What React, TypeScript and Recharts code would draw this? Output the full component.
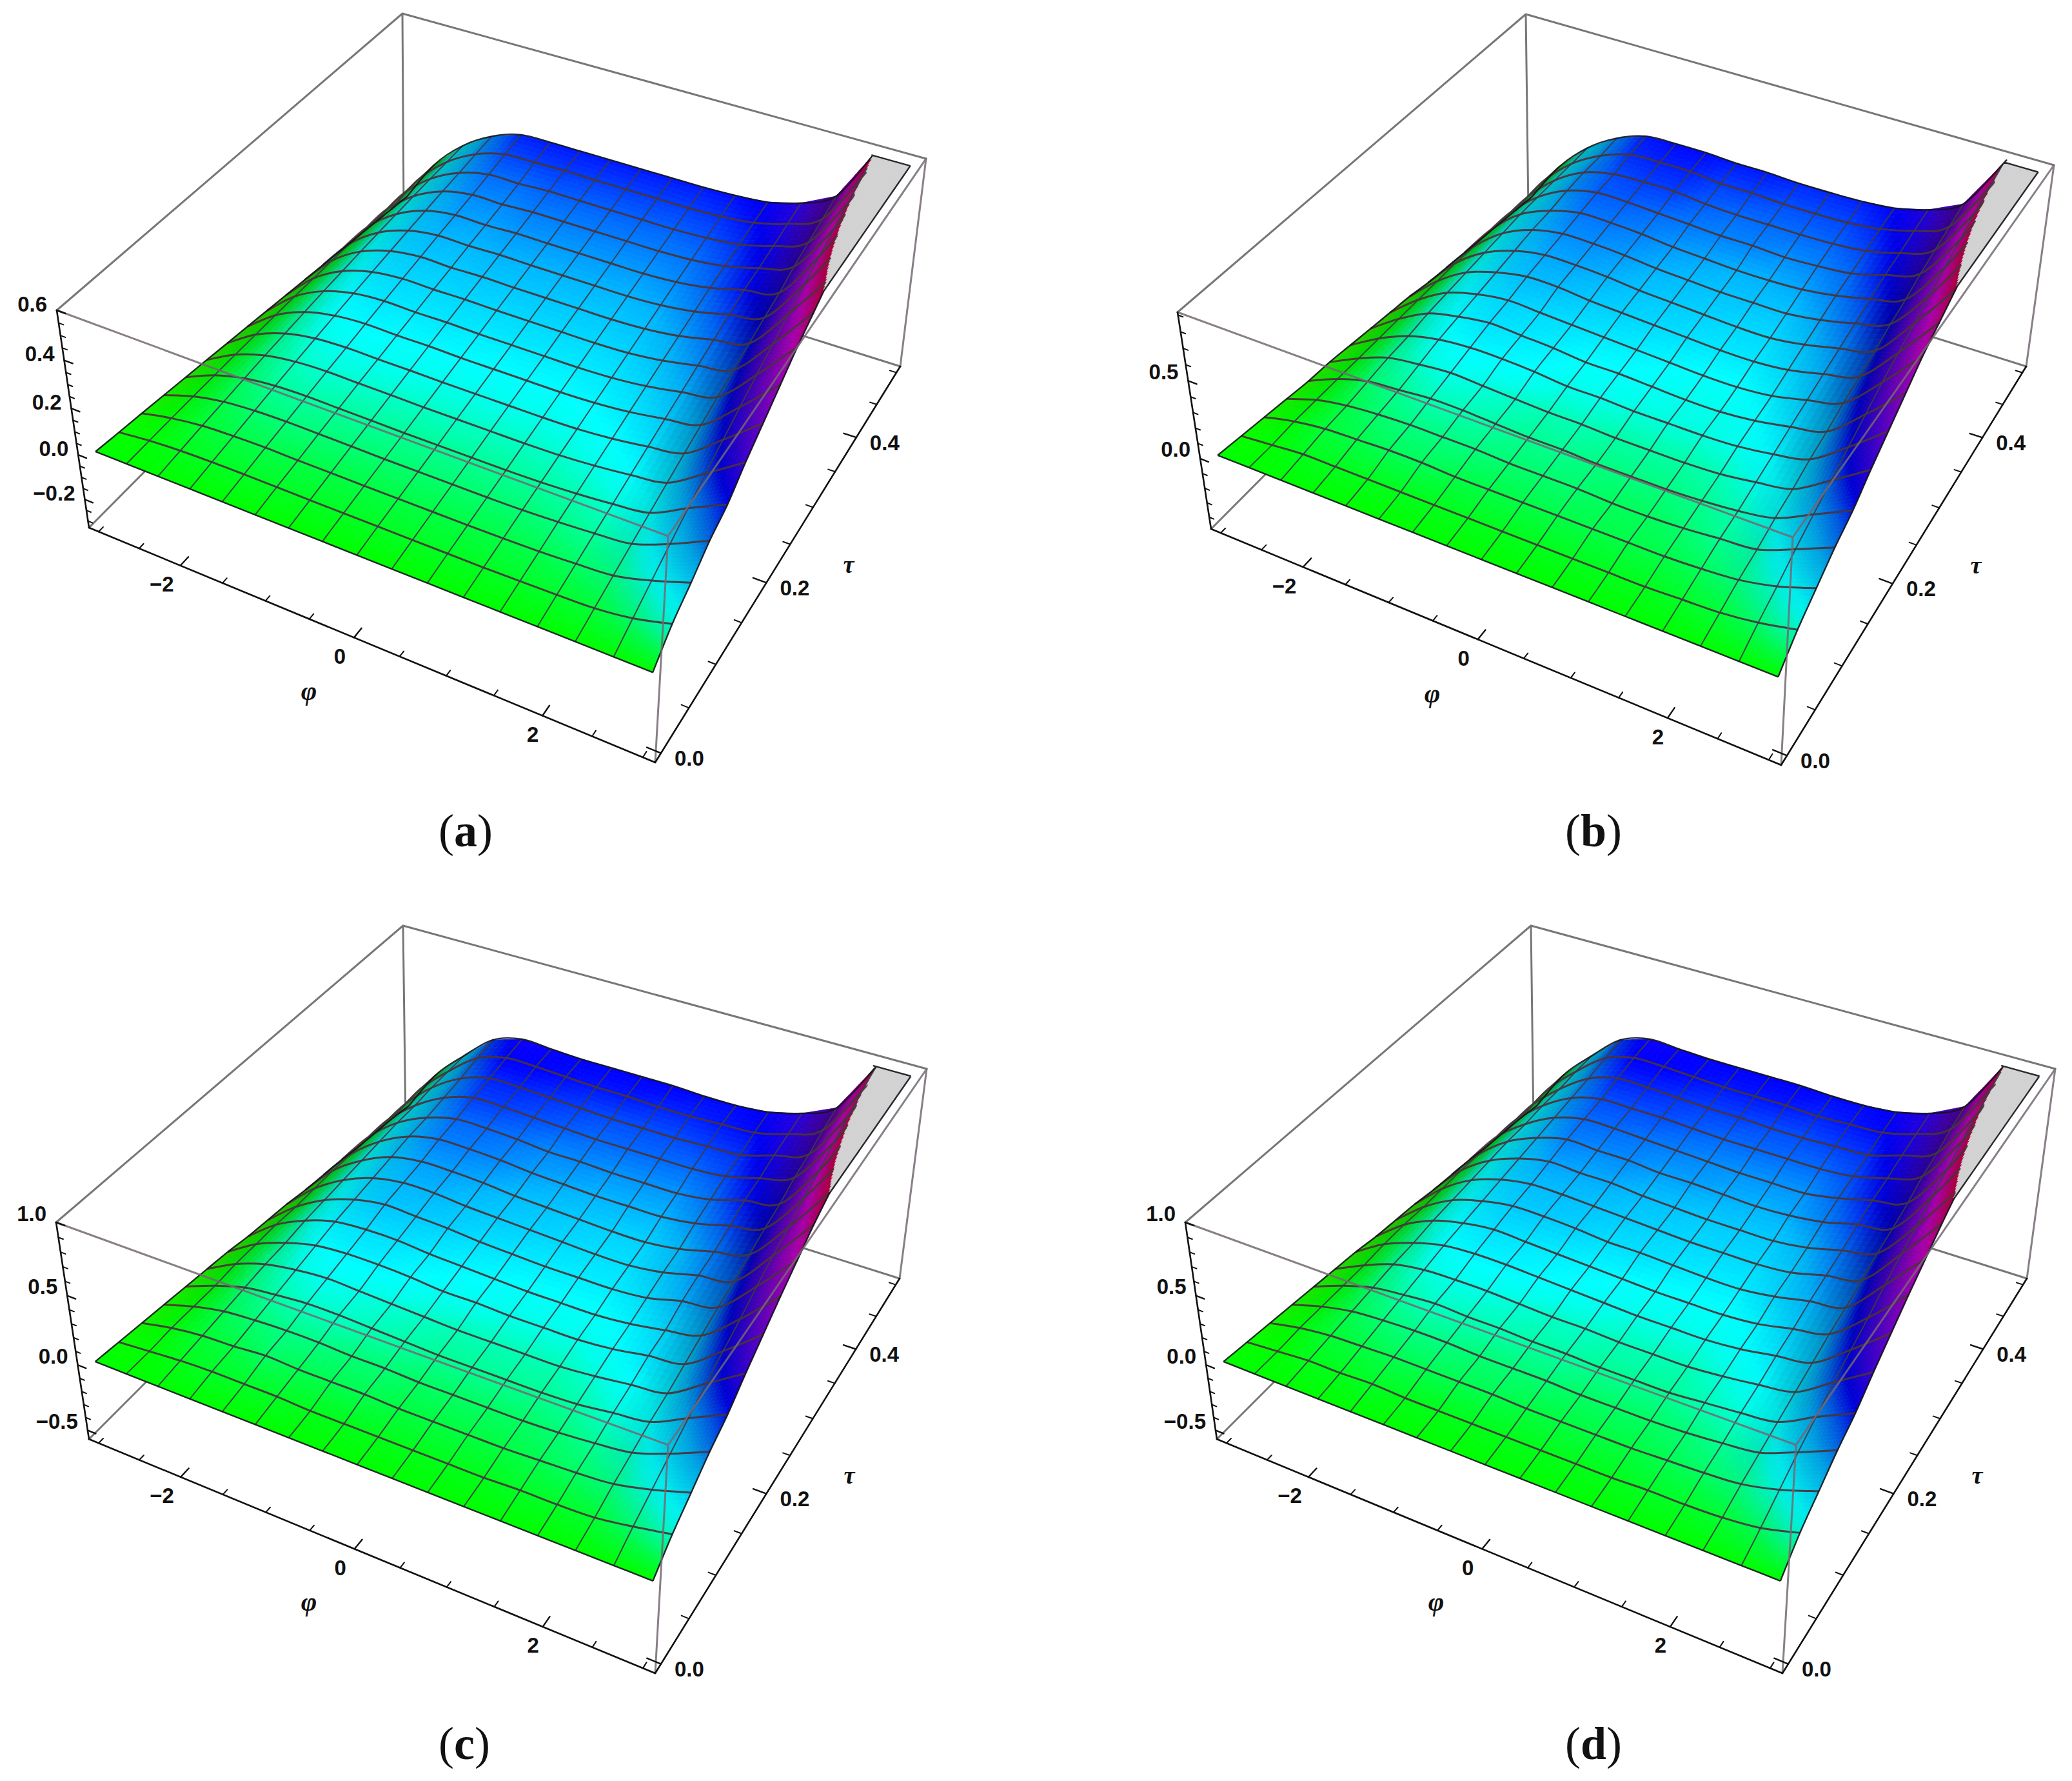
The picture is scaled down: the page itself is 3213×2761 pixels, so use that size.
import { ScatterChart, Scatter, XAxis, YAxis } from 'recharts';

const W = 3213;
const H = 2761;

// mesh nodes of the surface
const PHI_NODES = [-3, -2.625, -2.25, -1.875, -1.5, -1.125, -0.75, -0.375, 0, 0.375, 0.75, 1.125, 1.5, 1.875, 2.25, 2.625, 3];
const TAU_NODES = [0, 0.03125, 0.0625, 0.09375, 0.125, 0.15625, 0.1875, 0.21875, 0.25, 0.28125, 0.3125, 0.34375, 0.375, 0.40625, 0.4375, 0.46875, 0.5];
const PHI_BOX = [-3.12, 3.12];
const TAU_BOX = [-0.01, 0.51];

// heights, one row per tau node
const Z_A = [
  [0, 0, 0, 0, 0, 0, 0, 0, 0, 0, 0, 0, 0, 0, 0, 0, 0],
  [-0.013, 0.003, 0.012, 0.016, 0.017, 0.017, 0.016, 0.016, 0.016, 0.016, 0.016, 0.016, 0.018, 0.021, 0.026, 0.046, 0.085],
  [-0.025, 0.005, 0.024, 0.031, 0.034, 0.032, 0.032, 0.031, 0.031, 0.031, 0.031, 0.032, 0.035, 0.042, 0.052, 0.091, 0.143],
  [-0.038, 0.007, 0.034, 0.046, 0.05, 0.049, 0.048, 0.046, 0.046, 0.046, 0.046, 0.048, 0.054, 0.063, 0.077, 0.135, 0.207],
  [-0.051, 0.008, 0.044, 0.061, 0.066, 0.064, 0.063, 0.061, 0.061, 0.061, 0.061, 0.064, 0.071, 0.083, 0.102, 0.178, 0.25],
  [-0.064, 0.009, 0.054, 0.075, 0.082, 0.08, 0.079, 0.077, 0.077, 0.077, 0.077, 0.08, 0.089, 0.104, 0.126, 0.22, 0.32],
  [-0.078, 0.009, 0.062, 0.088, 0.096, 0.094, 0.094, 0.092, 0.092, 0.092, 0.092, 0.095, 0.106, 0.125, 0.15, 0.26, 0.38],
  [-0.091, 0.009, 0.07, 0.101, 0.112, 0.109, 0.11, 0.107, 0.107, 0.107, 0.107, 0.112, 0.124, 0.146, 0.173, 0.299, 0.44],
  [-0.105, 0.008, 0.078, 0.114, 0.126, 0.123, 0.125, 0.122, 0.122, 0.122, 0.122, 0.127, 0.141, 0.166, 0.196, 0.338, 0.5],
  [-0.119, 0.006, 0.084, 0.125, 0.14, 0.138, 0.14, 0.138, 0.138, 0.138, 0.138, 0.143, 0.159, 0.187, 0.218, 0.374, 0.55],
  [-0.133, 0.004, 0.09, 0.136, 0.154, 0.151, 0.155, 0.153, 0.153, 0.153, 0.153, 0.159, 0.176, 0.207, 0.24, 0.41, 0.6],
  [-0.147, 0.001, 0.095, 0.147, 0.168, 0.166, 0.17, 0.168, 0.168, 0.168, 0.168, 0.175, 0.194, 0.228, 0.262, 0.445, 0.66],
  [-0.161, -0.002, 0.099, 0.157, 0.18, 0.178, 0.184, 0.183, 0.183, 0.183, 0.183, 0.191, 0.211, 0.248, 0.282, 0.478, 0.72],
  [-0.176, -0.006, 0.103, 0.167, 0.193, 0.192, 0.199, 0.199, 0.199, 0.199, 0.199, 0.205, 0.222, 0.258, 0.31, 0.51, 0.78],
  [-0.19, -0.01, 0.106, 0.175, 0.208, 0.208, 0.215, 0.214, 0.214, 0.214, 0.214, 0.22, 0.235, 0.272, 0.332, 0.541, 0.84],
  [-0.205, -0.015, 0.108, 0.185, 0.224, 0.228, 0.231, 0.229, 0.229, 0.229, 0.229, 0.235, 0.25, 0.288, 0.352, 0.571, 0.9],
  [-0.22, -0.02, 0.11, 0.193, 0.24, 0.245, 0.245, 0.245, 0.245, 0.245, 0.245, 0.25, 0.262, 0.3, 0.372, 0.6, 0.96],
];
const Z_B = [
  [0, 0, 0, 0, 0, 0, 0, 0, 0, 0, 0, 0, 0, 0, 0, 0, 0],
  [-0.02, 0, 0.02, 0.02, 0.02, 0.02, 0.02, 0.02, 0.02, 0.02, 0.02, 0.02, 0.02, 0.03, 0.04, 0.07, 0.12],
  [-0.04, 0.01, 0.04, 0.05, 0.06, 0.06, 0.05, 0.05, 0.05, 0.05, 0.05, 0.05, 0.05, 0.06, 0.08, 0.13, 0.21],
  [-0.06, 0.01, 0.05, 0.07, 0.08, 0.08, 0.08, 0.07, 0.07, 0.07, 0.06, 0.06, 0.07, 0.09, 0.11, 0.2, 0.3],
  [-0.08, 0.01, 0.07, 0.09, 0.11, 0.11, 0.1, 0.09, 0.09, 0.08, 0.08, 0.08, 0.09, 0.11, 0.15, 0.26, 0.37],
  [-0.09, 0.01, 0.09, 0.12, 0.14, 0.13, 0.12, 0.11, 0.11, 0.1, 0.1, 0.1, 0.11, 0.14, 0.18, 0.32, 0.47],
  [-0.11, 0.01, 0.1, 0.15, 0.17, 0.17, 0.16, 0.14, 0.14, 0.13, 0.13, 0.13, 0.14, 0.17, 0.22, 0.38, 0.56],
  [-0.13, 0.01, 0.12, 0.17, 0.2, 0.19, 0.18, 0.16, 0.16, 0.15, 0.14, 0.14, 0.16, 0.2, 0.25, 0.44, 0.65],
  [-0.15, 0.01, 0.13, 0.19, 0.22, 0.21, 0.2, 0.19, 0.18, 0.17, 0.16, 0.16, 0.18, 0.23, 0.29, 0.5, 0.74],
  [-0.17, 0.01, 0.14, 0.21, 0.25, 0.25, 0.23, 0.22, 0.21, 0.2, 0.19, 0.19, 0.21, 0.26, 0.32, 0.55, 0.81],
  [-0.2, 0.01, 0.15, 0.23, 0.27, 0.27, 0.26, 0.24, 0.23, 0.22, 0.21, 0.21, 0.24, 0.29, 0.35, 0.6, 0.88],
  [-0.22, 0, 0.16, 0.25, 0.29, 0.29, 0.28, 0.26, 0.25, 0.24, 0.24, 0.24, 0.27, 0.32, 0.39, 0.65, 0.97],
  [-0.24, 0, 0.17, 0.26, 0.31, 0.31, 0.3, 0.28, 0.27, 0.26, 0.26, 0.27, 0.3, 0.35, 0.42, 0.7, 1.06],
  [-0.26, -0.01, 0.17, 0.28, 0.33, 0.33, 0.32, 0.31, 0.3, 0.3, 0.29, 0.3, 0.32, 0.38, 0.46, 0.75, 1.15],
  [-0.28, -0.02, 0.17, 0.29, 0.34, 0.35, 0.35, 0.33, 0.32, 0.32, 0.32, 0.325, 0.345, 0.4, 0.49, 0.8, 1.24],
  [-0.3, -0.02, 0.17, 0.29, 0.36, 0.37, 0.37, 0.35, 0.35, 0.34, 0.34, 0.345, 0.37, 0.425, 0.52, 0.84, 1.33],
  [-0.32, -0.03, 0.17, 0.3, 0.375, 0.385, 0.385, 0.375, 0.375, 0.365, 0.365, 0.37, 0.39, 0.445, 0.55, 0.88, 1.41],
];
const Z_C = [
  [0, 0, 0, 0, 0, 0, 0, 0, 0, 0, 0, 0, 0, 0, 0, 0, 0],
  [-0.02, 0, 0.02, 0.03, 0.03, 0.03, 0.02, 0.02, 0.02, 0.02, 0.02, 0.02, 0.03, 0.03, 0.04, 0.08, 0.13],
  [-0.04, 0.01, 0.04, 0.05, 0.07, 0.06, 0.06, 0.06, 0.05, 0.05, 0.05, 0.05, 0.06, 0.07, 0.09, 0.15, 0.23],
  [-0.06, 0.01, 0.06, 0.08, 0.09, 0.09, 0.08, 0.08, 0.07, 0.07, 0.07, 0.07, 0.08, 0.1, 0.13, 0.22, 0.33],
  [-0.08, 0.01, 0.08, 0.11, 0.13, 0.13, 0.12, 0.11, 0.1, 0.1, 0.1, 0.1, 0.11, 0.14, 0.17, 0.29, 0.41],
  [-0.1, 0.02, 0.1, 0.14, 0.16, 0.15, 0.14, 0.13, 0.12, 0.12, 0.12, 0.12, 0.14, 0.17, 0.2, 0.36, 0.52],
  [-0.12, 0.02, 0.11, 0.17, 0.19, 0.19, 0.18, 0.16, 0.16, 0.15, 0.15, 0.15, 0.17, 0.21, 0.24, 0.42, 0.62],
  [-0.15, 0.02, 0.13, 0.2, 0.22, 0.22, 0.2, 0.19, 0.18, 0.17, 0.17, 0.17, 0.19, 0.23, 0.28, 0.48, 0.72],
  [-0.17, 0.01, 0.14, 0.22, 0.26, 0.25, 0.24, 0.22, 0.21, 0.2, 0.2, 0.2, 0.22, 0.28, 0.32, 0.55, 0.81],
  [-0.19, 0.01, 0.15, 0.24, 0.28, 0.28, 0.26, 0.25, 0.24, 0.23, 0.22, 0.22, 0.25, 0.31, 0.35, 0.61, 0.9],
  [-0.22, 0.01, 0.16, 0.26, 0.3, 0.3, 0.29, 0.27, 0.26, 0.25, 0.24, 0.24, 0.27, 0.33, 0.39, 0.66, 0.97],
  [-0.24, 0, 0.17, 0.28, 0.33, 0.33, 0.32, 0.3, 0.29, 0.28, 0.28, 0.28, 0.31, 0.37, 0.43, 0.72, 1.07],
  [-0.26, 0, 0.18, 0.29, 0.35, 0.35, 0.34, 0.32, 0.32, 0.31, 0.31, 0.31, 0.34, 0.41, 0.46, 0.77, 1.17],
  [-0.29, -0.01, 0.18, 0.31, 0.38, 0.38, 0.37, 0.36, 0.35, 0.35, 0.35, 0.35, 0.37, 0.43, 0.51, 0.83, 1.27],
  [-0.31, -0.02, 0.19, 0.33, 0.4, 0.4, 0.39, 0.38, 0.37, 0.37, 0.37, 0.38, 0.39, 0.46, 0.54, 0.88, 1.37],
  [-0.33, -0.02, 0.19, 0.36, 0.43, 0.43, 0.42, 0.41, 0.41, 0.4, 0.4, 0.41, 0.42, 0.48, 0.58, 0.93, 1.46],
  [-0.36, -0.03, 0.19, 0.38, 0.45, 0.44, 0.43, 0.43, 0.43, 0.43, 0.42, 0.42, 0.44, 0.5, 0.61, 0.97, 1.56],
];
const Z_D = [
  [0, 0, 0, 0, 0, 0, 0, 0, 0, 0, 0, 0, 0, 0, 0, 0, 0],
  [-0.02, 0, 0.02, 0.02, 0.03, 0.02, 0.02, 0.02, 0.02, 0.02, 0.02, 0.02, 0.03, 0.03, 0.04, 0.07, 0.14],
  [-0.04, 0.01, 0.04, 0.05, 0.06, 0.06, 0.06, 0.06, 0.05, 0.05, 0.05, 0.05, 0.06, 0.07, 0.09, 0.15, 0.24],
  [-0.06, 0.01, 0.06, 0.08, 0.09, 0.09, 0.08, 0.08, 0.08, 0.07, 0.07, 0.07, 0.08, 0.1, 0.13, 0.23, 0.34],
  [-0.08, 0.01, 0.08, 0.11, 0.13, 0.12, 0.12, 0.11, 0.11, 0.1, 0.1, 0.1, 0.12, 0.14, 0.17, 0.3, 0.42],
  [-0.1, 0.01, 0.1, 0.14, 0.15, 0.15, 0.14, 0.13, 0.13, 0.12, 0.12, 0.12, 0.14, 0.17, 0.21, 0.37, 0.53],
  [-0.12, 0.02, 0.11, 0.17, 0.19, 0.19, 0.18, 0.17, 0.16, 0.15, 0.15, 0.15, 0.17, 0.21, 0.25, 0.43, 0.63],
  [-0.15, 0.02, 0.13, 0.19, 0.22, 0.21, 0.2, 0.19, 0.18, 0.17, 0.17, 0.17, 0.19, 0.24, 0.29, 0.49, 0.73],
  [-0.17, 0.01, 0.14, 0.21, 0.25, 0.25, 0.24, 0.22, 0.22, 0.21, 0.2, 0.2, 0.23, 0.28, 0.32, 0.56, 0.82],
  [-0.19, 0.01, 0.15, 0.23, 0.27, 0.27, 0.26, 0.25, 0.24, 0.23, 0.23, 0.23, 0.25, 0.31, 0.36, 0.62, 0.91],
  [-0.22, 0.01, 0.16, 0.25, 0.3, 0.29, 0.29, 0.27, 0.26, 0.25, 0.25, 0.25, 0.28, 0.34, 0.4, 0.67, 0.99],
  [-0.24, 0, 0.17, 0.27, 0.33, 0.32, 0.32, 0.3, 0.3, 0.29, 0.28, 0.29, 0.32, 0.38, 0.43, 0.73, 1.09],
  [-0.26, 0, 0.17, 0.29, 0.35, 0.35, 0.34, 0.33, 0.32, 0.31, 0.31, 0.31, 0.35, 0.41, 0.47, 0.78, 1.19],
  [-0.29, -0.01, 0.18, 0.31, 0.37, 0.37, 0.37, 0.36, 0.35, 0.35, 0.35, 0.35, 0.37, 0.43, 0.52, 0.84, 1.29],
  [-0.31, -0.02, 0.18, 0.33, 0.4, 0.4, 0.39, 0.38, 0.38, 0.37, 0.37, 0.38, 0.39, 0.46, 0.55, 0.89, 1.39],
  [-0.33, -0.02, 0.19, 0.36, 0.43, 0.43, 0.42, 0.41, 0.41, 0.41, 0.4, 0.41, 0.42, 0.48, 0.59, 0.94, 1.48],
  [-0.36, -0.03, 0.19, 0.38, 0.45, 0.44, 0.43, 0.43, 0.43, 0.43, 0.42, 0.42, 0.44, 0.5, 0.62, 0.98, 1.58],
];

// tick labels and tick positions
const PHI_MAJOR = [-2, 0, 2];
const PHI_MINOR = [-3, -2.5, -1.5, -1, -0.5, 0.5, 1, 1.5, 2.5, 3];
const TAU_MAJOR = [0, 0.2, 0.4];
const TAU_MINOR = [0.05, 0.1, 0.15, 0.25, 0.3, 0.35, 0.45, 0.5];
const Z_MAJOR_A = [-0.2, 0, 0.2, 0.4, 0.6];
const Z_MINOR_A = [-0.3, -0.25, -0.15, -0.1, -0.05, 0.05, 0.1, 0.15, 0.25, 0.3, 0.35, 0.45, 0.5, 0.55];
const Z_MAJOR_B = [0, 0.5];
const Z_MINOR_B = [-0.4, -0.3, -0.2, -0.1, 0.1, 0.2, 0.3, 0.4, 0.6, 0.7, 0.8, 0.9];
const Z_MAJOR_CD = [-0.5, 0, 0.5, 1];
const Z_MINOR_CD = [-0.4, -0.3, -0.2, -0.1, 0.1, 0.2, 0.3, 0.4, 0.6, 0.7, 0.8, 0.9];

type Pt = { x: number; y: number };

// box corners on the page: bottom and top faces, order left, front, right, back
const PANELS = [
  {
    name: 'a', z: Z_A, zDomain: [-0.331, 0.6], zMajor: Z_MAJOR_A, zMinor: Z_MINOR_A,
    bottom: [[138, 818], [1016, 1182], [1396, 568], [626, 326]],
    top: [[88, 481], [1036, 831], [1436, 246], [624, 21]],
    caption: [722, 1312], phiLabel: [479, 1071], tauLabel: [1316, 875],
  },
  {
    name: 'b', z: Z_B, zDomain: [-0.483, 0.917], zMajor: Z_MAJOR_B, zMinor: Z_MINOR_B,
    bottom: [[1878, 820], [2762, 1186], [3142, 568], [2370, 326]],
    top: [[1826, 484], [2780, 833], [3185, 256], [2366, 22]],
    caption: [2471, 1312], phiLabel: [2221, 1075], tauLabel: [3064, 876],
  },
  {
    name: 'c', z: Z_C, zDomain: [-0.57, 1], zMajor: Z_MAJOR_CD, zMinor: Z_MINOR_CD,
    bottom: [[138, 2231], [1016, 2594], [1395, 1982], [629, 1740]],
    top: [[87, 1895], [1036, 2240], [1437, 1657], [625, 1435]],
    caption: [720, 2727], phiLabel: [479, 2483], tauLabel: [1317, 2287],
  },
  {
    name: 'd', z: Z_D, zDomain: [-0.57, 1], zMajor: Z_MAJOR_CD, zMinor: Z_MINOR_CD,
    bottom: [[1887, 2231], [2764, 2594], [3143, 1982], [2378, 1740]],
    top: [[1838, 1895], [2785, 2240], [3187, 1657], [2374, 1435]],
    caption: [2471, 2727], phiLabel: [2227, 2483], tauLabel: [3066, 2287],
  },
];

type Panel = (typeof PANELS)[number];

// unit square to quad
function homography(q: number[][]) {
  const [[x0, y0], [x1, y1], [x2, y2], [x3, y3]] = q;
  const dx1 = x1 - x2, dx2 = x3 - x2, sx = x0 - x1 + x2 - x3;
  const dy1 = y1 - y2, dy2 = y3 - y2, sy = y0 - y1 + y2 - y3;
  const den = dx1 * dy2 - dx2 * dy1;
  const g = (sx * dy2 - dx2 * sy) / den;
  const h = (dx1 * sy - sx * dy1) / den;
  const a = x1 - x0 + g * x1, b = x3 - x0 + h * x3;
  const d = y1 - y0 + g * y1, e = y3 - y0 + h * y3;
  return (u: number, v: number) => {
    const w = g * u + h * v + 1;
    return [(a * u + b * v + x0) / w, (d * u + e * v + y0) / w];
  };
}

function makeView(p: Panel) {
  const lo = homography(p.bottom);
  const hi = homography(p.top);
  // box coordinates (0..1 each) to page coordinates
  const box = (u: number, v: number, w: number): Pt => {
    const ww = w - 0.09 * w * (1 - w);
    const a = lo(u, v);
    const b = hi(u, v);
    return { x: a[0] + (b[0] - a[0]) * ww, y: a[1] + (b[1] - a[1]) * ww };
  };
  const [z0, z1] = p.zDomain;
  const uOf = (phi: number) => (phi - PHI_BOX[0]) / (PHI_BOX[1] - PHI_BOX[0]);
  const vOf = (tau: number) => (tau - TAU_BOX[0]) / (TAU_BOX[1] - TAU_BOX[0]);
  const wOf = (z: number) => (z - z0) / (z1 - z0);
  const clip = z0 + 0.98 * (z1 - z0);
  return { box, uOf, vOf, wOf, clip };
}

const noDot = () => <g />;

const segments = (stroke: string, width: number) => (props: any) => {
  const pts: Pt[] = props.points;
  let d = '';
  for (let i = 0; i + 1 < pts.length; i += 2) d += `M${pts[i].x} ${pts[i].y}L${pts[i + 1].x} ${pts[i + 1].y}`;
  return <path d={d} fill="none" stroke={stroke} strokeWidth={width} strokeLinecap="round" />;
};

function smooth(pts: Pt[]) {
  let d = `M${pts[0].x} ${pts[0].y}`;
  for (let i = 0; i + 1 < pts.length; i++) {
    const p0 = pts[Math.max(i - 1, 0)], p1 = pts[i], p2 = pts[i + 1], p3 = pts[Math.min(i + 2, pts.length - 1)];
    d += `C${p1.x + (p2.x - p0.x) / 6} ${p1.y + (p2.y - p0.y) / 6} ${p2.x - (p3.x - p1.x) / 6} ${p2.y - (p3.y - p1.y) / 6} ${p2.x} ${p2.y}`;
  }
  return d;
}

const HUE_S = [-0.4, -0.1, 0, 0.05, 0.1, 0.15, 0.2, 0.28, 0.35, 0.42, 0.6, 0.8, 0.95, 1];
const HUE_H = [90, 110, 120, 135, 155, 175, 184, 197, 215, 238, 268, 300, 335, 345];

function hueOf(s: number) {
  if (s <= HUE_S[0]) return HUE_H[0];
  for (let i = 1; i < HUE_S.length; i++) {
    if (s <= HUE_S[i]) return HUE_H[i - 1] + ((HUE_H[i] - HUE_H[i - 1]) * (s - HUE_S[i - 1])) / (HUE_S[i] - HUE_S[i - 1]);
  }
  return 345;
}

const N = PHI_NODES.length;
const M = TAU_NODES.length;

// one line across the mesh: the part under the clip height and the part on it
function traceLine(nodes: { p: Pt; c: Pt; z: number }[], clip: number) {
  const below: Pt[][] = [];
  const above: Pt[][] = [];
  let cur: Pt[] = [];
  let on = nodes[0].z >= clip;
  nodes.forEach((n, j) => {
    cur.push(on ? n.c : n.p);
    const next = nodes[j + 1];
    if (next && next.z >= clip !== on) {
      const t = (clip - n.z) / (next.z - n.z);
      const q = { x: n.p.x + (next.p.x - n.p.x) * t, y: n.p.y + (next.p.y - n.p.y) * t };
      cur.push(q);
      (on ? above : below).push(cur);
      cur = [q];
      on = !on;
    }
  });
  (on ? above : below).push(cur);
  return { below: below.filter((r) => r.length > 1), above: above.filter((r) => r.length > 1) };
}

// the series holds every node twice: on the surface, then on the clip height
const surface = (p: Panel, clip: number) => (props: any) => {
  const pts: Pt[] = props.points;
  const at = (k: number, i: number) => pts[k * N + i];
  const cut = (k: number, i: number) => pts[M * N + k * N + i];
  // shade from the slope along phi
  const shade = p.z.map((row) =>
    row.map((_, i) => {
      const a = row[Math.max(i - 1, 0)];
      const b = row[Math.min(i + 1, N - 1)];
      const dphi = PHI_NODES[Math.min(i + 1, N - 1)] - PHI_NODES[Math.max(i - 1, 0)];
      const s = (b - a) / dphi / clip;
      const gain = i >= N - 2 ? 0.34 : i < N / 2 ? 0.42 : 0.55;
      return 1 - gain * Math.min(1, Math.max(0, s - 0.07) / 0.65);
    }),
  );
  const hueRef = clip * 1.03;
  const polys = [];
  for (let k = M - 2; k >= 0; k--) {
    for (let i = 0; i < N - 1; i++) {
      const a = at(k, i), b = at(k, i + 1), c = at(k + 1, i + 1), e = at(k + 1, i);
      const ca = cut(k, i), cb = cut(k, i + 1), cc = cut(k + 1, i + 1), ce = cut(k + 1, i);
      const z00 = p.z[k][i], z10 = p.z[k][i + 1], z11 = p.z[k + 1][i + 1], z01 = p.z[k + 1][i];
      const s00 = shade[k][i], s10 = shade[k][i + 1], s11 = shade[k + 1][i + 1], s01 = shade[k + 1][i];
      const hits = Math.max(z00, z10, z11, z01) >= clip;
      const SUB = hits ? 28 : i === N - 2 ? 10 : i === N - 3 ? 8 : 5;
      const zAt = (s: number, t: number) => (1 - t) * ((1 - s) * z00 + s * z10) + t * ((1 - s) * z01 + s * z11);
      const vertex = (s: number, t: number) => {
        const on = zAt(s, t) >= clip;
        const q00 = on ? ca : a, q10 = on ? cb : b, q11 = on ? cc : c, q01 = on ? ce : e;
        const x = (1 - t) * ((1 - s) * q00.x + s * q10.x) + t * ((1 - s) * q01.x + s * q11.x);
        const y = (1 - t) * ((1 - s) * q00.y + s * q10.y) + t * ((1 - s) * q01.y + s * q11.y);
        return `${x.toFixed(1)},${y.toFixed(1)}`;
      };
      for (let tt = SUB - 1; tt >= 0; tt--) {
        for (let ss = 0; ss < SUB; ss++) {
          const s0 = ss / SUB, s1 = (ss + 1) / SUB, t0 = tt / SUB, t1 = (tt + 1) / SUB;
          const sm = (s0 + s1) / 2, tm = (t0 + t1) / 2;
          const z = zAt(sm, tm);
          const br = (1 - tm) * ((1 - sm) * s00 + sm * s10) + tm * ((1 - sm) * s01 + sm * s11);
          const fill = z >= clip ? '#d2d2d2' : `hsl(${hueOf(z / hueRef).toFixed(1)},100%,${(50 * br).toFixed(1)}%)`;
          polys.push(
            <polygon
              key={`${k}-${i}-${tt}-${ss}`}
              points={[vertex(s0, t0), vertex(s1, t0), vertex(s1, t1), vertex(s0, t1)].join(' ')}
              fill={fill}
              stroke={fill}
              strokeWidth={0.8}
            />,
          );
        }
      }
    }
  }
  const rowNodes = (k: number) => PHI_NODES.map((_, i) => ({ p: at(k, i), c: cut(k, i), z: p.z[k][i] }));
  const colNodes = (i: number) => TAU_NODES.map((_, k) => ({ p: at(k, i), c: cut(k, i), z: p.z[k][i] }));
  let rowsD = '';
  for (let k = 1; k < M - 1; k++) traceLine(rowNodes(k), clip).below.forEach((r) => (rowsD += smooth(r)));
  let colsD = '';
  for (let i = 1; i < N - 1; i++) traceLine(colNodes(i), clip).below.forEach((r) => (colsD += smooth(r)));
  let edge = '';
  [rowNodes(0), colNodes(N - 1), rowNodes(M - 1), colNodes(0)].forEach((line) => {
    const t = traceLine(line, clip);
    t.below.forEach((r) => (edge += smooth(r)));
    t.above.forEach((r) => (edge += smooth(r)));
  });
  return (
    <g>
      {polys}
      <path d={rowsD} fill="none" stroke="#4a3338" strokeOpacity={0.92} strokeWidth={3} />
      <path d={colsD} fill="none" stroke="#3e3a48" strokeOpacity={0.9} strokeWidth={2} />
      <path d={edge} fill="none" stroke="#14141c" strokeOpacity={0.9} strokeWidth={2.4} />
    </g>
  );
};

const labelDot = (props: any) => {
  const d = props.payload;
  return (
    <text
      x={props.cx}
      y={props.cy}
      textAnchor={d.anchor}
      dominantBaseline="central"
      fontFamily={d.family}
      fontSize={d.size}
      fontWeight={d.weight}
      fontStyle={d.italic ? 'italic' : 'normal'}
      fill="#111"
    >
      {d.text}
    </text>
  );
};

const captionDot = (props: any) => {
  const d = props.payload;
  return (
    <text x={props.cx} y={props.cy} textAnchor="middle" fontFamily="Liberation Serif" fontSize={72} fill="#111">
      (<tspan fontWeight="bold">{d.text}</tspan>)
    </text>
  );
};

const SANS = 'Liberation Sans';
const SERIF = 'Liberation Serif';

function panelSeries(p: Panel) {
  const { box, uOf, vOf, wOf, clip } = makeView(p);
  const c = box;

  // box edges, u is the phi side and v the tau side
  const behind = [
    c(0, 0, 1), c(0, 1, 1),
    c(0, 1, 1), c(1, 1, 1),
    c(0, 1, 1), c(0, 1, 0),
    c(0, 0, 0), c(0, 1, 0),
    c(0, 1, 0), c(1, 1, 0),
  ];
  const front = [
    c(0, 0, 1), c(1, 0, 1),
    c(1, 0, 1), c(1, 1, 1),
    c(1, 0, 1), c(1, 0, 0),
    c(1, 1, 1), c(1, 1, 0),
  ];

  const axes = [c(0, 0, 0), c(0, 0, 1), c(0, 0, 0), c(1, 0, 0), c(1, 0, 0), c(1, 1, 0)];
  const tickMajor: Pt[] = [];
  const tickMinor: Pt[] = [];
  PHI_MAJOR.forEach((t) => tickMajor.push(c(uOf(t), 0, 0), c(uOf(t), 0.022, 0)));
  PHI_MINOR.forEach((t) => tickMinor.push(c(uOf(t), 0, 0), c(uOf(t), 0.012, 0)));
  TAU_MAJOR.forEach((t) => tickMajor.push(c(1, vOf(t), 0), c(0.978, vOf(t), 0)));
  TAU_MINOR.forEach((t) => tickMinor.push(c(1, vOf(t), 0), c(0.988, vOf(t), 0)));
  p.zMajor.forEach((t) => tickMajor.push(c(0, 0, wOf(t)), c(0.016, 0, wOf(t))));
  p.zMinor.forEach((t) => tickMinor.push(c(0, 0, wOf(t)), c(0.009, 0, wOf(t))));

  const nodes: any[] = [];
  const cutNodes: any[] = [];
  TAU_NODES.forEach((tau, k) =>
    PHI_NODES.forEach((phi, i) => {
      const z = p.z[k][i];
      nodes.push({ ...box(uOf(phi), vOf(tau), wOf(z)), phi, tau, z });
      cutNodes.push({ ...box(uOf(phi), vOf(tau), wOf(clip)), phi, tau, z: clip });
    }),
  );

  const fmt = (t: number) => (t < 0 ? `\u2212${Math.abs(t).toFixed(1)}` : t.toFixed(1));
  const labels: any[] = [];
  const base = { family: SANS, size: 33, weight: 'bold' };
  PHI_MAJOR.forEach((t) => {
    const q = c(uOf(t), 0, 0);
    labels.push({ ...base, x: q.x - 22 + 3.5 * t, y: q.y + 29, anchor: 'middle', text: t < 0 ? `\u2212${-t}` : `${t}` });
  });
  TAU_MAJOR.forEach((t) => {
    const q = c(1, vOf(t), 0);
    labels.push({ ...base, x: q.x + 44, y: q.y + 8, anchor: 'middle', text: t.toFixed(1) });
  });
  p.zMajor.forEach((t) => {
    const q = c(0, 0, wOf(t));
    labels.push({ ...base, x: q.x - 15, y: q.y - (p.name === 'a' ? 10 : 14), anchor: 'end', text: fmt(t) });
  });
  labels.push({ family: SERIF, size: 42, weight: 'bold', italic: true, x: p.phiLabel[0], y: p.phiLabel[1], anchor: 'middle', text: '\u03c6' });
  labels.push({ family: SERIF, size: 38, weight: 'bold', italic: true, x: p.tauLabel[0], y: p.tauLabel[1], anchor: 'middle', text: '\u03c4' });

  const key = p.name;
  return [
    <Scatter key={`${key}-back`} data={behind} shape={noDot} line={segments('#777', 3)} isAnimationActive={false} />,
    <Scatter key={`${key}-surface`} data={[...nodes, ...cutNodes]} shape={noDot} line={surface(p, clip)} isAnimationActive={false} />,
    <Scatter key={`${key}-front`} data={front} shape={noDot} line={segments('rgba(115,105,115,0.85)', 3)} isAnimationActive={false} />,
    <Scatter key={`${key}-axes`} data={axes} shape={noDot} line={segments('#111', 2.6)} isAnimationActive={false} />,
    <Scatter key={`${key}-major`} data={tickMajor} shape={noDot} line={segments('#111', 2.4)} isAnimationActive={false} />,
    <Scatter key={`${key}-minor`} data={tickMinor} shape={noDot} line={segments('#111', 2)} isAnimationActive={false} />,
    <Scatter key={`${key}-labels`} data={labels} shape={labelDot} isAnimationActive={false} />,
    <Scatter
      key={`${key}-caption`}
      data={[{ x: p.caption[0], y: p.caption[1], text: p.name }]}
      shape={captionDot}
      isAnimationActive={false}
    />,
  ];
}

export default function App() {
  return (
    <div style={{ position: 'absolute', left: 0, top: 0, width: W, height: H, background: '#fff' }}>
      <ScatterChart width={W} height={H} margin={{ top: 0, right: 0, bottom: 0, left: 0 }}>
        <XAxis dataKey="x" type="number" domain={[0, W]} hide allowDataOverflow />
        <YAxis dataKey="y" type="number" domain={[0, H]} reversed hide allowDataOverflow />
        {PANELS.flatMap(panelSeries)}
      </ScatterChart>
    </div>
  );
}
